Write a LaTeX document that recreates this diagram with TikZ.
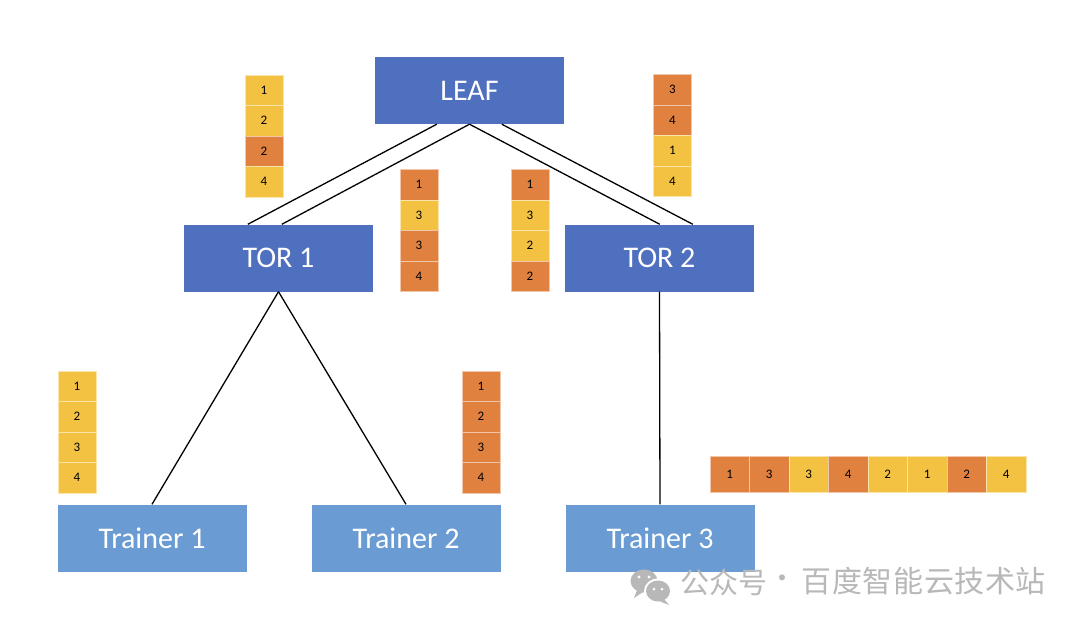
\documentclass[tikz,border=0pt]{standalone}
\usepackage{fontspec}
\setmainfont{Carlito}
\newfontfamily\cjk{Noto Sans CJK SC}
\newfontfamily\cjkwide{Noto Sans CJK SC}[LetterSpace=2]
\usetikzlibrary{calc}
\definecolor{boxblue}{HTML}{4F70BE}
\definecolor{trainblue}{HTML}{6A9BD2}
\definecolor{O}{HTML}{E0813F}
\definecolor{Y}{HTML}{F4C242}
\definecolor{wm}{HTML}{B8B8B8}
\tikzset{
  box/.style={draw=none, minimum width=189pt, minimum height=67pt, inner sep=0pt, text=white, font=\fontsize{30}{31}\selectfont},
  cell/.style={draw=white!55!#1, fill=#1, line width=0.5pt, inner sep=0pt, font=\fontsize{13}{14}\selectfont},
  vcell/.style={cell=#1, minimum width=38pt, minimum height=30.5pt},
  hcell/.style={cell=#1, minimum width=39.5pt, minimum height=36pt},
  link/.style={line width=1.3pt, black},
  wmtext/.style={inner sep=0pt, text=wm}
}
\begin{document}
\begin{tikzpicture}[x=1pt,y=-1pt]
\useasboundingbox (0,0) rectangle (1080,627);
\fill[white] (0,0) rectangle (1080,627);
% main boxes
\node[box, fill=boxblue] (leaf) at (469.5,90.5) {LEAF};
\node[box, fill=boxblue] (tor1) at (278.5,258) {TOR 1};
\node[box, fill=boxblue] (tor2) at (659.5,258) {TOR 2};
\node[box, fill=trainblue] (tr1) at (152,538) {Trainer 1};
\node[box, fill=trainblue] (tr2) at (406,538) {Trainer 2};
\node[box, fill=trainblue] (tr3) at (660,538) {Trainer 3};
% links
\coordinate (la) at ($(leaf.south west)+(62,0)$);
\coordinate (lb) at ($(leaf.south west)+(127,0)$);
\coordinate (t1a) at ($(tor1.north west)+(64,0)$);
\coordinate (t1b) at ($(tor1.north west)+(98,0)$);
\coordinate (t2a) at ($(tor2.north west)+(95,0)$);
\coordinate (t2b) at ($(tor2.north west)+(128,0)$);
\draw[link] (la) -- (t1a);
\draw[link] (leaf.south) -- (t1b);
\draw[link] (leaf.south) -- (t2a);
\draw[link] (lb) -- (t2b);
\draw[link] (tor1.south) -- (tr1.north);
\draw[link] (tor1.south) -- (tr2.north);
\draw[link] (tor2.south) -- (tr3.north);
% vertical stacks
\foreach \nm/\x/\y/\lst in {
  sa/264/75/{1/Y,2/Y,2/O,4/Y},
  sb/419/169.5/{1/O,3/Y,3/O,4/O},
  sc/530/169.5/{1/O,3/Y,2/Y,2/O},
  sd/672.5/74.5/{3/O,4/O,1/Y,4/Y},
  se/77/371/{1/Y,2/Y,3/Y,4/Y},
  sf/481/371/{1/O,2/O,3/O,4/O}} {
  \foreach \v/\c [count=\i] in \lst {
    \node[vcell=\c] (\nm\i) at (\x,\y+\i*30.5-15.25) {\v};
  }
}
% horizontal row
\foreach \v/\c [count=\i] in {1/O,3/O,3/Y,4/O,2/Y,1/Y,2/O,4/Y} {
  \node[hcell=\c] (r\i) at (710+\i*39.5-19.75,474.7) {\v};
}
% watermark
\begin{scope}[wm]
  \fill (644,581) ellipse (13.5pt and 11.5pt);
  \fill (637,590) -- (634,598) -- (643,592) -- cycle;
  \fill[white] (658,591) ellipse (14pt and 12.5pt);
  \fill (658,591) ellipse (12pt and 10.5pt);
  \fill (664,599) -- (669,605) -- (659,601) -- cycle;
  \fill[white] (639,577) circle (1.7pt) (649,577) circle (1.7pt);
  \fill[white] (654,589) circle (1.5pt) (662,589) circle (1.5pt);
\end{scope}
\node[wmtext, anchor=west, font=\cjk\fontsize{29}{30}\selectfont] (wma) at (680,582) {公众号};
\node[wmtext, font=\cjk\fontsize{28}{30}\selectfont] (wmdot) at (782,582) {·};
\node[wmtext, anchor=west, font=\cjkwide\fontsize{30}{32}\selectfont] (wmb) at (801.5,581) {百度智能云技术站};
\end{tikzpicture}
\end{document}
